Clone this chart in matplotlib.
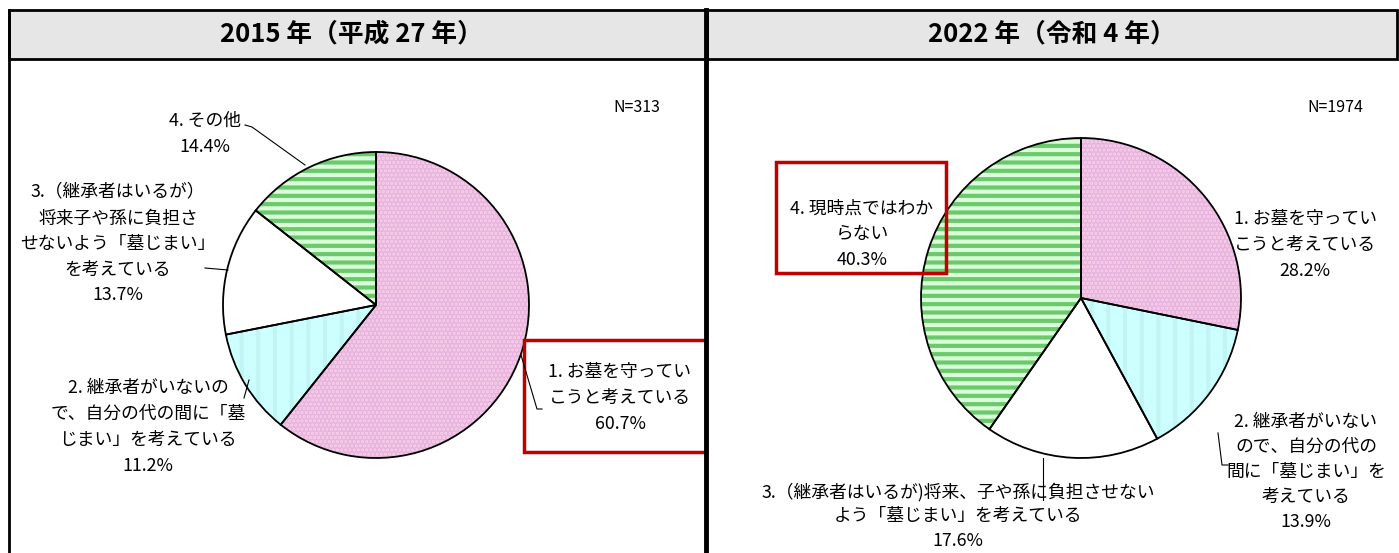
import matplotlib
matplotlib.use("Agg")
import matplotlib.pyplot as plt
from matplotlib.patches import Rectangle

plt.rcParams['font.family'] = ['Noto Sans CJK JP', 'DejaVu Sans']
plt.rcParams['hatch.linewidth'] = 3.0

# data
titles = ["2015 年（平成 27 年）", "2022 年（令和 4 年）"]
counts = ["N=313", "N=1974"]
vals_2015 = [60.7, 11.2, 13.7, 14.4]
vals_2022 = [28.2, 13.9, 17.6, 40.3]
labels_2015 = ["1. お墓を守ってい\nこうと考えている",
               "2. 継承者がいないの\nで、自分の代の間に「墓\nじまい」を考えている",
               "3.（継承者はいるが）\n将来子や孫に負担さ\nせないよう「墓じまい」\nを考えている",
               "4. その他"]
labels_2022 = ["1. お墓を守ってい\nこうと考えている",
               "2. 継承者がいない\nので、自分の代の\n間に「墓じまい」を\n考えている",
               "3.（継承者はいるが)将来、子や孫に負担させない\nよう「墓じまい」を考えている",
               "4. 現時点ではわか\nらない"]

faces = ['#f7cdea', '#ccffff', 'white', '#d9ffd9']
hatch_cols = ['#e6b4dc', '#c2f4f4', 'white', '#6cc86c']
hatches = ['....', '|', '', '--']

W, H = 1399, 553
fig = plt.figure(figsize=(W / 100, H / 100), dpi=100)
ax = fig.add_axes([0, 0, 1, 1])


def Y(y):
    return H - y


def draw_pie(vals, cx, cy, r):
    w1, _ = ax.pie(vals, startangle=90, counterclock=False, center=(cx, Y(cy)),
                   radius=r, colors=faces, frame=True)
    for w, hc, h in zip(w1, hatch_cols, hatches):
        w.set_edgecolor(hc)
        w.set_linewidth(0)
        w.set_hatch(h)
    ax.pie(vals, startangle=90, counterclock=False, center=(cx, Y(cy)),
           radius=r, frame=True,
           wedgeprops=dict(facecolor='none', edgecolor='black', linewidth=1.3))


draw_pie(vals_2015, 376, 305, 153)
draw_pie(vals_2022, 1081, 298, 160)

# panel frames / headers
ax.add_patch(Rectangle((9, Y(59)), 698, 49, facecolor='#e6e6e6', edgecolor='black', lw=2))
ax.add_patch(Rectangle((707, Y(59)), 690, 49, facecolor='#e6e6e6', edgecolor='black', lw=2))
ax.plot([9, 9], [Y(10), 0], color='black', lw=2)
ax.plot([706, 706], [Y(10), 0], color='black', lw=3.5)
ax.text(351, Y(34), titles[0], ha='center', va='center', fontsize=18.5, fontweight='bold')
ax.text(1052, Y(34), titles[1], ha='center', va='center', fontsize=18.5, fontweight='bold')
ax.text(637, Y(107), counts[0], ha='center', va='center', fontsize=11.5)
ax.text(1335, Y(107), counts[1], ha='center', va='center', fontsize=11.5)

fs = 12.8
ls = 1.55


def lab(x, y, txt, pct, s=ls):
    ax.text(x, Y(y), txt + "\n" + f"{pct:.1f}%", ha='center', va='center',
            fontsize=fs, linespacing=s)


def line(pts):
    ax.plot([p[0] for p in pts], [Y(p[1]) for p in pts], color='black', lw=0.8)


# 2015 labels
lab(620, 398, labels_2015[0], vals_2015[0])
lab(148, 427, labels_2015[1], vals_2015[1])
lab(118, 244, labels_2015[2], vals_2015[2])
lab(205, 134, labels_2015[3], vals_2015[3])
ax.add_patch(Rectangle((524, Y(452)), 182, 112, facecolor='none', edgecolor='#c00000', lw=2.5))
line([(521, 355), (537, 409), (542, 409)])
line([(244, 398), (249, 380)])
line([(205, 268), (228, 270)])
line([(245, 125), (252, 127), (305, 165)])

# 2022 labels
lab(1305, 245, labels_2022[0], vals_2022[0])
lab(1306, 472, labels_2022[1], vals_2022[1], 1.5)
lab(958, 516, labels_2022[2], vals_2022[2], 1.45)
lab(862, 234, labels_2022[3], vals_2022[3])
ax.add_patch(Rectangle((776, Y(273)), 170, 111, facecolor='none', edgecolor='#c00000', lw=2.5))
line([(1043, 458), (1043, 500)])
line([(1218, 433), (1222, 465), (1228, 465)])

ax.set_xlim(0, W)
ax.set_ylim(0, H)
ax.set_aspect('auto')
ax.axis('off')

fig.savefig("out.png", dpi=100)
